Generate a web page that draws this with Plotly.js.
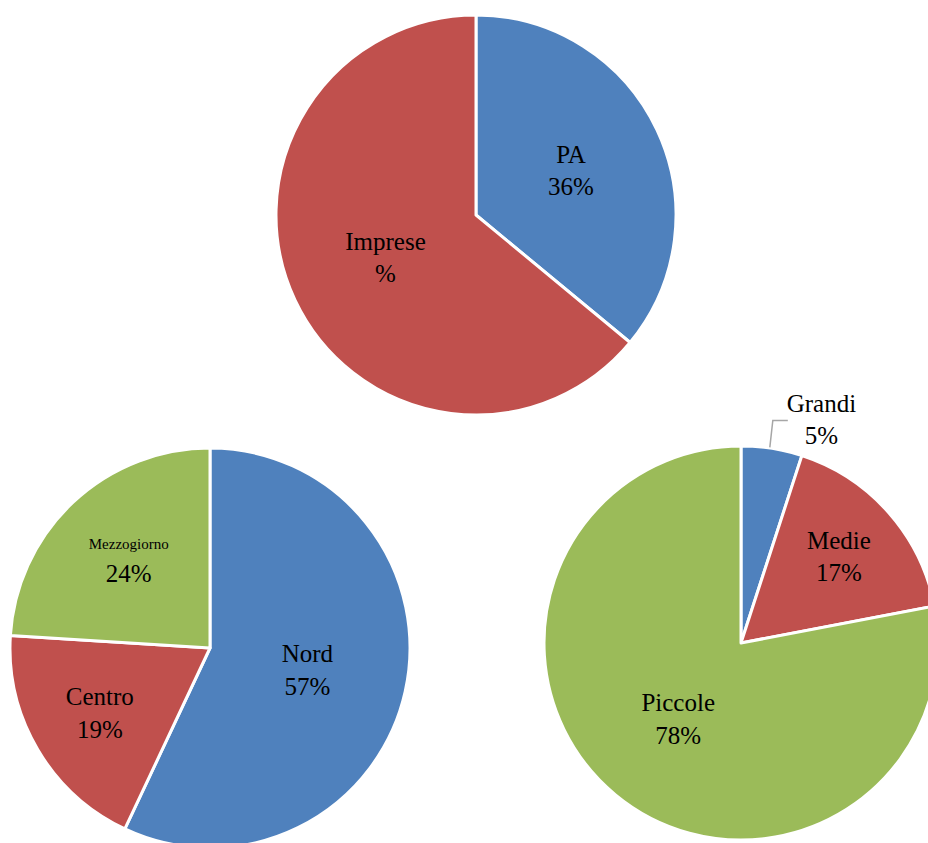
<!DOCTYPE html>
<html>
<head>
<meta charset="utf-8">
<script src="https://cdn.plot.ly/plotly-3.0.1.min.js"></script>
<style>
  html, body { margin: 0; padding: 0; overflow: hidden; background: #ffffff; }
  #chart { width: 960px; height: 860px; }
</style>
</head>
<body>
<div id="chart"></div>
<script>
// ---- data ----
const settoriLabels = ["PA", "Imprese"];
const settoriValues = [36, 64];
const settoriTemplates = ["%{label}<br>%{percent:.0%}", "%{label}<br>%"];

const areeLabels = ["Nord", "Centro", "Mezzogiorno"];
const areeValues = [57, 19, 24];
const areeTemplates = [
  "%{label}<br>%{percent:.0%}",
  "%{label}<br>%{percent:.0%}",
  "<span style='font-size:15px'>%{label}</span><br>%{percent:.0%}"
];

const dimensioniLabels = ["Grandi", "Medie", "Piccole"];
const dimensioniValues = [5, 17, 78];
const dimensioniTemplates = ["%{label}<br>%{percent:.0%}", "%{label}<br>%{percent:.0%}", "%{label}<br>%{percent:.0%}"];
const dimensioniTextPos = ["outside", "inside", "inside"];

// ---- styles ----
const colors = ["#4F81BD", "#C0504D", "#9BBB59"];
const W = 960, H = 860;
const font = { family: "Liberation Serif, Times New Roman, serif", size: 25, color: "#000000" };

function dom(x0, x1, yTop, yBot) {
  return { x: [x0 / W, x1 / W], y: [(H - yBot) / H, (H - yTop) / H] };
}

const base = {
  type: "pie",
  sort: false,
  direction: "clockwise",
  rotation: 0,
  showlegend: false,
  hoverinfo: "label+percent",
  marker: { colors: colors, line: { color: "#ffffff", width: 3 } },
  insidetextorientation: "horizontal",
  textfont: font,
  insidetextfont: font,
  outsidetextfont: font,
  automargin: false
};

const domSettori = dom(276, 676, 15, 415);
const domAree = dom(10, 410, 448, 848);
const domDim = dom(544, 938, 446, 840);

const traces = [
  Object.assign({}, base, {
    labels: settoriLabels, values: settoriValues,
    texttemplate: settoriTemplates, textposition: "inside",
    domain: domSettori
  }),
  Object.assign({}, base, {
    labels: areeLabels, values: areeValues,
    texttemplate: areeTemplates, textposition: "inside",
    domain: domAree
  }),
  Object.assign({}, base, {
    labels: dimensioniLabels, values: dimensioniValues,
    texttemplate: dimensioniTemplates, textposition: dimensioniTextPos,
    domain: domDim
  })
];

// leader line for the outside "Grandi" label, derived from the slice angle
const totDim = dimensioniValues.reduce((a, b) => a + b, 0);
const midAng = (dimensioniValues[0] / 2) / totDim * 2 * Math.PI;
const cxD = (domDim.x[0] + domDim.x[1]) / 2 * W;
const cyD = H - (domDim.y[0] + domDim.y[1]) / 2 * H;
const rD = Math.min((domDim.x[1] - domDim.x[0]) * W, (domDim.y[1] - domDim.y[0]) * H) / 2;
const sx = cxD + rD * Math.sin(midAng) - 2;
const sy = cyD - rD * Math.cos(midAng) - 1;
const ex = sx + 3, ey = sy - 27;
const fx = ex + 15;
const toPaper = (x, y) => [x / W, (H - y) / H];
const p0 = toPaper(sx, sy), p1 = toPaper(ex, ey), p2 = toPaper(fx, ey);

const layout = {
  width: W, height: H,
  margin: { l: 0, r: 0, t: 0, b: 0, pad: 0 },
  paper_bgcolor: "#ffffff",
  plot_bgcolor: "#ffffff",
  font: font,
  shapes: [{
    type: "path", xref: "paper", yref: "paper",
    path: `M ${p0[0]} ${p0[1]} L ${p1[0]} ${p1[1]} L ${p2[0]} ${p2[1]}`,
    line: { color: "#A6A6A6", width: 1.5 }
  }]
};

Plotly.newPlot("chart", traces, layout, { displayModeBar: false, staticPlot: true });
</script>
</body>
</html>
